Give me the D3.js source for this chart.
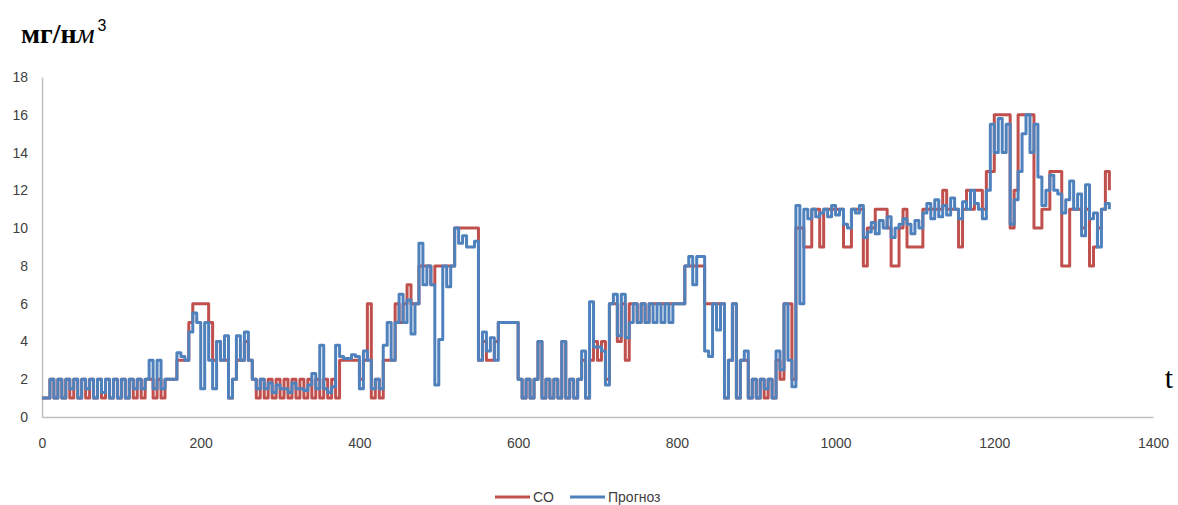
<!DOCTYPE html>
<html>
<head>
<meta charset="utf-8">
<script src="https://cdn.jsdelivr.net/npm/d3@7"></script>
<style>
  body { margin: 0; background: #fff; }
  svg { display: block; }
  .tick text { font-family: "Liberation Sans", Arial, sans-serif; font-size: 14px; fill: #404040; }
</style>
</head>
<body>
<svg id="chart" width="1178" height="505"></svg>
<script>
// sampled every 5 time steps (t = i * 5)
const step = 5
const coValues = [
  1,1,2,1,2,1,2,1,2,1, 2,1,2,1,2,1,2,1,2,1, 2,1,2,1,2,1,2,2,1,2,
  1,2,2,2,3,3,3,5,6,6, 6,6,5,3,4,3,3,1,2,3, 3,4,3,2,1,2,1,2,1,2,
  1,2,1,2,1,2,1,2,1,2, 1,2,1,2,1,3,3,3,3,3, 2,3,6,1,2,1,3,3,3,6,
  5,6,7,6,6,8,8,8,7,8, 8,8,8,8,10,10,10,10,10,10, 3,4,3,3,4,5,5,5,5,5,
  2,1,2,1,2,4,1,2,1,2, 1,4,1,2,1,2,3,1,3,4, 3,4,2,6,6,4,6,3,6,6,
  5,6,5,6,6,6,6,6,6,6, 6,6,8,8,8,8,8,6,6,6, 6,6,1,3,6,1,3,3,1,2,
  1,2,1,2,1,3,2,6,6,2, 10,10,9,9,11,11,9,11,11,11, 11,11,9,9,11,11,11,8,10,10,
  11,11,11,10,8,8,10,11,9,9, 9,9,11,11,11,11,11,12,11,11, 11,9,11,12,11,12,12,11,13,13,
  16,16,16,16,10,12,16,16,16,16, 10,10,11,11,13,13,13,8,8,11, 11,11,10,11,8,9,10,11,13,12
]
const forecastValues = [
  1,1,2,1,2,1,2,1.5,2,1, 2,1.5,2,1,2,1.3,2,1,2,1, 2,1,2,1.5,2,1.5,2,3,1.5,3,
  1.5,2,2,2,3.4,3.2,3,4.5,5.5,5, 1.5,5,3,1.5,4,3,4.3,1,2,4.3, 3,4.5,3,2,1.5,2,1.5,1.8,1.3,1.7,
  1.5,1.5,1.3,1.8,1.5,1.5,1.4,1.7,2.3,1.5, 3.8,1.5,1.3,1.6,3.8,3.2,3.1,3.1,3.3,3.2, 1.5,3.5,3,1.5,2,1.5,3.8,5,3,5,
  6.5,5,6.2,4.4,6,9.2,7,8,7,1.7, 4.1,8,6.9,8,10,9.2,9.6,9,9,9.3, 3,4.5,3.5,4.2,3,5,5,5,5,5,
  2,1,2,1,2,4,1,2,1,2, 1,4,1,2,1,2,3.5,1,6.1,3.7, 3.7,3.5,1.7,6,6.5,4.3,6.5,4.2,5,6,
  5,6,5,6,5,6,5,6,5,6, 6,6,8,8.5,7,8.5,8.5,3.5,3.2,6, 4.6,6,1,3,6,1,3,3.5,1,2,
  1,2,1.5,2,1,3.5,2.5,6,3,1.6, 11.2,6,11,10.5,11,10.6,10.8,11,10.6,11.2, 10.7,11,10.2,10,11,10.8,11.2,9.5,9.8,10.3,
  9.7,10.4,10,10.6,9.5,10,10.2,10.5,10.2,9.7, 10.4,10,10.8,11.3,10.5,11.5,10.6,11.2,10.7,11.6, 11,10.5,11.4,11,12,11.3,11,10.5,12,15.5,
  14,15.8,14,15.5,10.2,11.5,13,15,16,14, 15.5,12.7,11.2,12,12.8,12,11.8,10.8,11.5,12.5, 11,11.8,9.6,12.3,10.5,10.8,9,11,11.3,11
]
const xTicks = [0, 200, 400, 600, 800, 1000, 1200, 1400]
const yTicks = [0, 2, 4, 6, 8, 10, 12, 14, 16, 18]
const seriesNames = ['CO', 'Прогноз']
const seriesColors = ['#C0504D', '#4F81BD']

const svg = d3.select('#chart')
const x = d3.scaleLinear().domain([0, 1400]).range([42, 1153])
const y = d3.scaleLinear().domain([0, 18]).range([417, 77])

// axes (Excel style: grey lines, no tick marks)
svg.append('g')
  .attr('transform', 'translate(42,0)')
  .call(d3.axisLeft(y).tickValues(yTicks).tickSize(0).tickPadding(14))
svg.append('g')
  .attr('transform', 'translate(0,417)')
  .call(d3.axisBottom(x).tickValues(xTicks).tickFormat(d3.format('d')).tickSize(0).tickPadding(21))
svg.selectAll('.domain').attr('stroke', '#BFBFBF').attr('stroke-width', 1.5)

// lines - the raw series is so dense that it reads as steps
const line = d3.line()
  .x((d, i) => x(i * step))
  .y(d => y(d))
  .curve(d3.curveStepAfter)
const data = [coValues, forecastValues]
svg.append('g').selectAll('path')
  .data(data).enter().append('path')
  .attr('d', line)
  .attr('fill', 'none')
  .attr('stroke', (d, i) => seriesColors[i])
  .attr('stroke-width', 3)
  .attr('stroke-linejoin', 'round')

// y unit label  мг/нм³
const unit = svg.append('text')
  .attr('x', 21).attr('y', 43)
  .style('font-family', '"Liberation Serif", "Times New Roman", serif')
  .style('font-size', '28px')
  .style('fill', '#000')
unit.append('tspan').style('font-weight', 'bold').text('мг/н')
unit.append('tspan').style('font-style', 'italic').text('м')
unit.append('tspan')
  .attr('dx', 3).attr('dy', -12)
  .style('font-family', '"Liberation Sans", Arial, sans-serif')
  .style('font-size', '16px')
  .text('3')

// t label on the right
svg.append('text')
  .attr('x', 1169).attr('y', 388)
  .attr('text-anchor', 'middle')
  .style('font-family', '"Liberation Serif", "Times New Roman", serif')
  .style('font-size', '30px')
  .text('t')

// legend
const legendX = [495, 570]
const legend = svg.append('g').selectAll('g')
  .data(seriesNames).enter().append('g')
  .attr('transform', (d, i) => `translate(${legendX[i]},497)`)
legend.append('line')
  .attr('x1', 0).attr('x2', 35)
  .attr('stroke', (d, i) => seriesColors[i])
  .attr('stroke-width', 3)
legend.append('text')
  .attr('x', 38).attr('dy', '0.35em')
  .style('font-family', '"Liberation Sans", Arial, sans-serif')
  .style('font-size', '14px')
  .style('fill', '#404040')
  .text(d => d)
</script>
</body>
</html>
